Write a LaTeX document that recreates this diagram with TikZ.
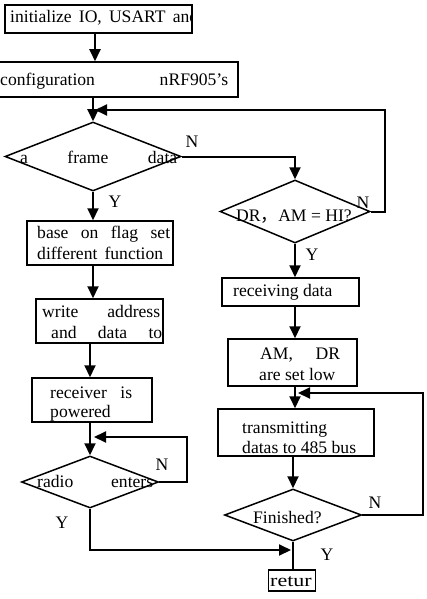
\documentclass[tikz,border=0pt]{standalone}
\usepackage{fontspec}
\setmainfont{Liberation Serif}
\newfontfamily\cjk{Noto Sans CJK SC}
\usetikzlibrary{shapes.geometric,arrows.meta}
\newcommand\tf{\fontsize{17.6}{20}\selectfont}
\tikzset{
  box/.style={draw, rectangle, line width=1.5pt, inner sep=0pt},
  dia/.style={draw, diamond, line width=1.5pt, inner sep=0pt},
  arr/.style={line width=2pt, -{Triangle[length=12pt,width=11pt]}},
  ln/.style={line width=2pt},
  txt/.style={inner sep=0pt, font=\tf},
  lbl/.style={inner sep=0pt, font=\tf}
}
\begin{document}
\begin{tikzpicture}[x=1pt,y=-1pt]
\useasboundingbox (0,0) rectangle (427,599);
% boxes and diamonds
\node[box, minimum width=187pt, minimum height=28pt] (b1) at (98.5,19) {};
\node[box, minimum width=241pt, minimum height=35pt] (b2) at (117.5,79.5) {};
\node[dia, minimum width=176pt, minimum height=69pt] (d1) at (93,156.5) {};
\node[dia, minimum width=150pt, minimum height=63pt] (dr) at (295,211.5) {};
\node[box, minimum width=146pt, minimum height=44pt] (b3) at (100,243) {};
\node[box, minimum width=127pt, minimum height=44pt] (b4) at (99.5,321) {};
\node[box, minimum width=120pt, minimum height=44pt] (b5) at (92,400) {};
\node[dia, minimum width=137pt, minimum height=52pt] (radio) at (90,482) {};
\node[box, minimum width=137pt, minimum height=28pt] (b6) at (290.5,292) {};
\node[box, minimum width=129pt, minimum height=47pt] (b7) at (292.5,362.5) {};
\node[box, minimum width=156pt, minimum height=47pt] (b8) at (296,432.5) {};
\node[dia, minimum width=137pt, minimum height=52pt] (fin) at (293,515) {};
\node[box, minimum width=47pt, minimum height=21pt] (b9) at (292,580.5) {};
% texts
\begin{scope}
\clip (b1.south west) rectangle (b1.north east);
\node[txt, anchor=base west] (t1) at (10,23) {\makebox[188pt][s]{initialize IO, USART and}};
\end{scope}
\node[txt, anchor=base west] (t2) at (0,86) {\makebox[228pt][s]{configuration nRF905’s}};
\node[txt, anchor=base west] (t3) at (20,163) {\makebox[157pt][s]{a frame data}};
\node[txt, anchor=base west] (t4) at (236,221) {DR{\cjk ，}AM = HI?};
\node[txt, anchor=base west] (t5a) at (37,238) {\makebox[133pt][s]{base on flag set}};
\node[txt, anchor=base west] (t5b) at (37,259) {\makebox[126pt][s]{different function}};
\node[txt, anchor=base west] (t6a) at (42,317) {\makebox[118pt][s]{write address}};
\node[txt, anchor=base west] (t6b) at (51,338) {\makebox[111pt][s]{and data to}};
\begin{scope}
\clip (b5.south west) rectangle (b5.north east);
\node[txt, anchor=base west] (t7a) at (50,398) {\makebox[82pt][s]{receiver is}};
\node[txt, anchor=base west] (t7b) at (50,417) {powered};
\end{scope}
\node[txt, anchor=base west] (t8) at (37,487) {\makebox[116pt][s]{radio enters}};
\node[txt, anchor=base west] (t9) at (233,296) {receiving data};
\node[txt, anchor=base west] (t10a) at (260,359) {\makebox[80pt][s]{AM, DR}};
\node[txt, anchor=base west] (t10b) at (259,380) {are set low};
\node[txt, anchor=base west] (t11a) at (242,433) {transmitting};
\node[txt, anchor=base west] (t11b) at (242,453) {datas to 485 bus};
\node[txt, anchor=base west] (t12) at (253,523) {Finished?};
\node[txt, anchor=base west] (t13) at (270,586) {\scalebox{1.25}[1]{retur}};
% labels
\node[lbl] (n1) at (192,142) {N};
\node[lbl] (y1) at (115,202) {Y};
\node[lbl] (n2) at (363,203) {N};
\node[lbl] (y2) at (312,255) {Y};
\node[lbl] (n3) at (162,465) {N};
\node[lbl] (y3) at (62,523) {Y};
\node[lbl] (n4) at (375,503) {N};
\node[lbl] (y4) at (327,555) {Y};
% free ends
\coordinate (m1) at (95,110);
\coordinate (m2) at (94,437);
\coordinate (m3) at (291,550);
\coordinate (m4) at (298,393);
\coordinate (c1) at (95,0);
% connectors
\draw[arr] (b1.south -| c1) -- (b2.north -| c1);
\draw[arr] (b2.south -| d1.north) -- (d1.north);
\draw[arr] (dr.east) -- ++(14,0) |- (m1);
\draw[arr] (d1.east) -| (dr.north);
\draw[arr] (d1.south) -- (b3.north -| d1.south);
\draw[arr] (b3.south -| d1.south) -- (b4.north -| d1.south);
\draw[arr] (b4.south -| radio.north) -- (b5.north -| radio.north);
\draw[arr] (b5.south -| radio.north) -- (radio.north);
\draw[arr] (radio.east) -- ++(28,0) |- (m2);
\draw[arr] (radio.south) |- (m3);
\draw[arr] (dr.south) -- (b6.north -| dr.south);
\draw[arr] (b6.south -| dr.south) -- (b7.north -| dr.south);
\draw[arr] (b7.south -| dr.south) -- (b8.north -| dr.south);
\draw[arr] (b8.south -| fin.north) -- (fin.north);
\draw[arr] (fin.east) -- ++(61,0) |- (m4);
\draw[ln] (fin.south) -- (b9.north -| fin.south);
\end{tikzpicture}
\end{document}
